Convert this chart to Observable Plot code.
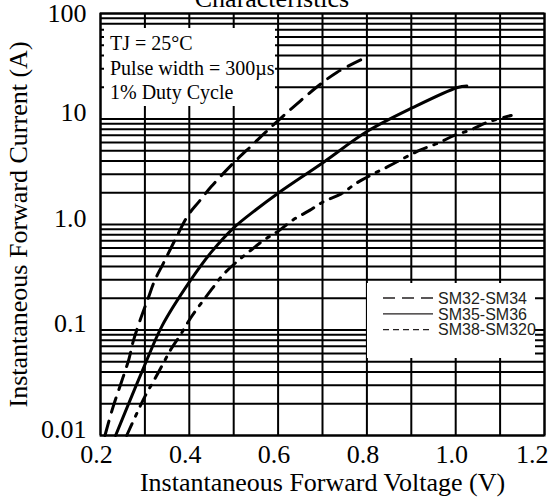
<!DOCTYPE html>
<html>
<head>
<meta charset="utf-8">
<script src="https://cdn.jsdelivr.net/npm/d3@7"></script>
<script src="https://cdn.jsdelivr.net/npm/@observablehq/plot@0.6"></script>
<style>
  html, body { margin: 0; padding: 0; background: white; }
  #wrap { position: relative; width: 548px; height: 499px; overflow: hidden; }
  #wrap svg.overlay { position: absolute; left: 0; top: 0; pointer-events: none; }
</style>
</head>
<body>
<div id="wrap"></div>
<script>
// ---- data ----
const titleText = "Characteristics";
const xLabel = "Instantaneous Forward Voltage (V)";
const yLabel = "Instantaneous Forward Current (A)";
const notes = ["TJ = 25°C", "Pulse width = 300µs", "1% Duty Cycle"];

const xGrid = [0.2, 0.3, 0.4, 0.5, 0.6, 0.7, 0.8, 0.9, 1.0, 1.1, 1.2];
const yGrid = [0.01, 0.02, 0.03, 0.04, 0.05, 0.06, 0.07, 0.08, 0.09,
               0.1, 0.2, 0.3, 0.4, 0.5, 0.6, 0.7, 0.8, 0.9,
               1, 2, 3, 4, 5, 6, 7, 8, 9,
               10, 20, 30, 40, 50, 60, 70, 80, 90, 100];
const xTickValues = [0.2, 0.4, 0.6, 0.8, 1.0];
const xTickLast = [1.2];
const yTickValues = [0.01, 0.1, 1, 10];
const yTickTop = [100];
const yTickLabels = {0.01: "0.01", 0.1: "0.1", 1: "1.0", 10: "10", 100: "100"};

const seriesNames = ["SM32-SM34", "SM35-SM36", "SM38-SM320"];

// SM32-SM34 (long dashed)
const sm32V = [0.21, 0.228, 0.247, 0.264, 0.274, 0.289, 0.307, 0.322, 0.341, 0.369, 0.397, 0.421, 0.45, 0.5, 0.543, 0.572, 0.617, 0.688, 0.733, 0.786];
const sm32I = [0.01, 0.0185, 0.032, 0.053, 0.079, 0.123, 0.198, 0.294, 0.424, 0.73, 1.22, 1.63, 2.3, 3.85, 5.73, 7.5, 11.2, 20.2, 27.8, 36.4];

// SM35-SM36 (solid)
const sm35V = [0.234, 0.2975, 0.339, 0.4, 0.45, 0.5, 0.55, 0.6, 0.7, 0.802, 0.903, 1.004, 1.025];
const sm35I = [0.01, 0.0443, 0.110, 0.284, 0.55, 0.93, 1.38, 1.98, 3.83, 7.68, 12.8, 19.9, 20.6];

// SM38-SM320 (dash-dot)
const sm38V = [0.259, 0.283, 0.301, 0.32, 0.341, 0.359, 0.3815, 0.403, 0.427, 0.451, 0.475, 0.506, 0.538, 0.569, 0.6, 0.635, 0.671, 0.704, 0.742, 0.776, 0.812, 0.848, 0.885, 0.921, 0.96, 0.997, 1.034, 1.072, 1.125];
const sm38I = [0.01, 0.0166, 0.0239, 0.033, 0.048, 0.066, 0.092, 0.13, 0.18, 0.245, 0.33, 0.44, 0.567, 0.716, 0.865, 1.115, 1.36, 1.66, 1.95, 2.46, 2.98, 3.55, 4.29, 5.1, 5.9, 6.98, 7.9, 9.33, 10.8];

const toRows = (V, I) => V.map((v, k) => ({v, i: I[k]}));
const sm32 = toRows(sm32V, sm32I);
const sm35 = toRows(sm35V, sm35I);
const sm38 = toRows(sm38V, sm38I);

const serif = "'Liberation Serif', 'Times New Roman', serif";
const sans = "'Liberation Sans', Arial, sans-serif";
const fmtY = d => yTickLabels[d];

const chart = Plot.plot({
  width: 548,
  height: 499,
  marginLeft: 100,
  marginRight: 4,
  marginTop: 13,
  marginBottom: 64,
  x: {type: "linear", domain: [0.2, 1.2]},
  y: {type: "log", domain: [0.01, 100]},
  style: {fontFamily: serif, background: "white", color: "black", overflow: "visible"},
  marks: [
    Plot.ruleX(xGrid, {x: d => d, stroke: "black", strokeWidth: 2}),
    Plot.ruleY(yGrid, {y: d => d, stroke: "black", strokeWidth: 2}),
    Plot.frame({stroke: "black", strokeWidth: 2}),
    Plot.line(sm32, {x: "v", y: "i", stroke: "black", strokeWidth: 3, strokeDasharray: "15,9", curve: "catmull-rom"}),
    Plot.line(sm35, {x: "v", y: "i", stroke: "black", strokeWidth: 3, curve: "catmull-rom"}),
    Plot.line(sm38, {x: "v", y: "i", stroke: "black", strokeWidth: 3, strokeDasharray: "13,8,3,8", curve: "catmull-rom"}),
    Plot.axisX({ticks: xTickValues, tickSize: 0, tickPadding: 9, tickFormat: d => d.toFixed(1), fontSize: 26, dx: -4, label: null}),
    Plot.axisX({ticks: xTickLast, tickSize: 0, tickPadding: 9, tickFormat: d => d.toFixed(1), fontSize: 26, textAnchor: "end", dx: 4, label: null}),
    Plot.axisX({ticks: [], tickSize: 0, label: xLabel, labelAnchor: "center", labelArrow: "none", labelOffset: 55, fontSize: 26}),
    Plot.axisY({ticks: yTickValues, tickSize: 0, tickPadding: 14, tickFormat: fmtY, fontSize: 26, dy: -6, label: null}),
    Plot.axisY({ticks: yTickTop, tickSize: 0, tickPadding: 14, tickFormat: fmtY, fontSize: 26, dy: 0, label: null}),
    Plot.axisY({ticks: [], tickSize: 0, label: yLabel, labelAnchor: "center", labelArrow: "none", labelOffset: 92, fontSize: 26})
  ]
});

const wrap = document.getElementById("wrap");
wrap.appendChild(chart);

// ---- overlay: title, condition box, legend ----
const ov = d3.select(wrap).append("svg")
  .attr("class", "overlay")
  .attr("width", 548).attr("height", 499);

ov.append("text")
  .attr("x", 272).attr("y", 7)
  .attr("text-anchor", "middle")
  .attr("font-family", serif).attr("font-size", 26)
  .text(titleText);

// conditions box
ov.append("rect").attr("x", 104).attr("y", 28).attr("width", 171).attr("height", 78).attr("fill", "white");
notes.forEach((t, k) => {
  ov.append("text")
    .attr("x", 110).attr("y", 50 + k * 24.5)
    .attr("font-family", serif).attr("font-size", 20)
    .attr("fill", "black")
    .text(t);
});

// legend
const legendDash = ["12,7", null, "6,4"];
ov.append("rect").attr("x", 367).attr("y", 283).attr("width", 168).attr("height", 75).attr("fill", "white");
seriesNames.forEach((name, k) => {
  const cy = 298 + k * 15.8;
  const ln = ov.append("line")
    .attr("x1", 383).attr("x2", 433).attr("y1", cy).attr("y2", cy)
    .attr("stroke", "#231f20").attr("stroke-width", 1.3);
  if (legendDash[k]) ln.attr("stroke-dasharray", legendDash[k]);
  ov.append("text")
    .attr("x", 438).attr("y", cy + 5.7)
    .attr("font-family", sans).attr("font-size", 16)
    .attr("fill", "#231f20")
    .text(name);
});
</script>
</body>
</html>
